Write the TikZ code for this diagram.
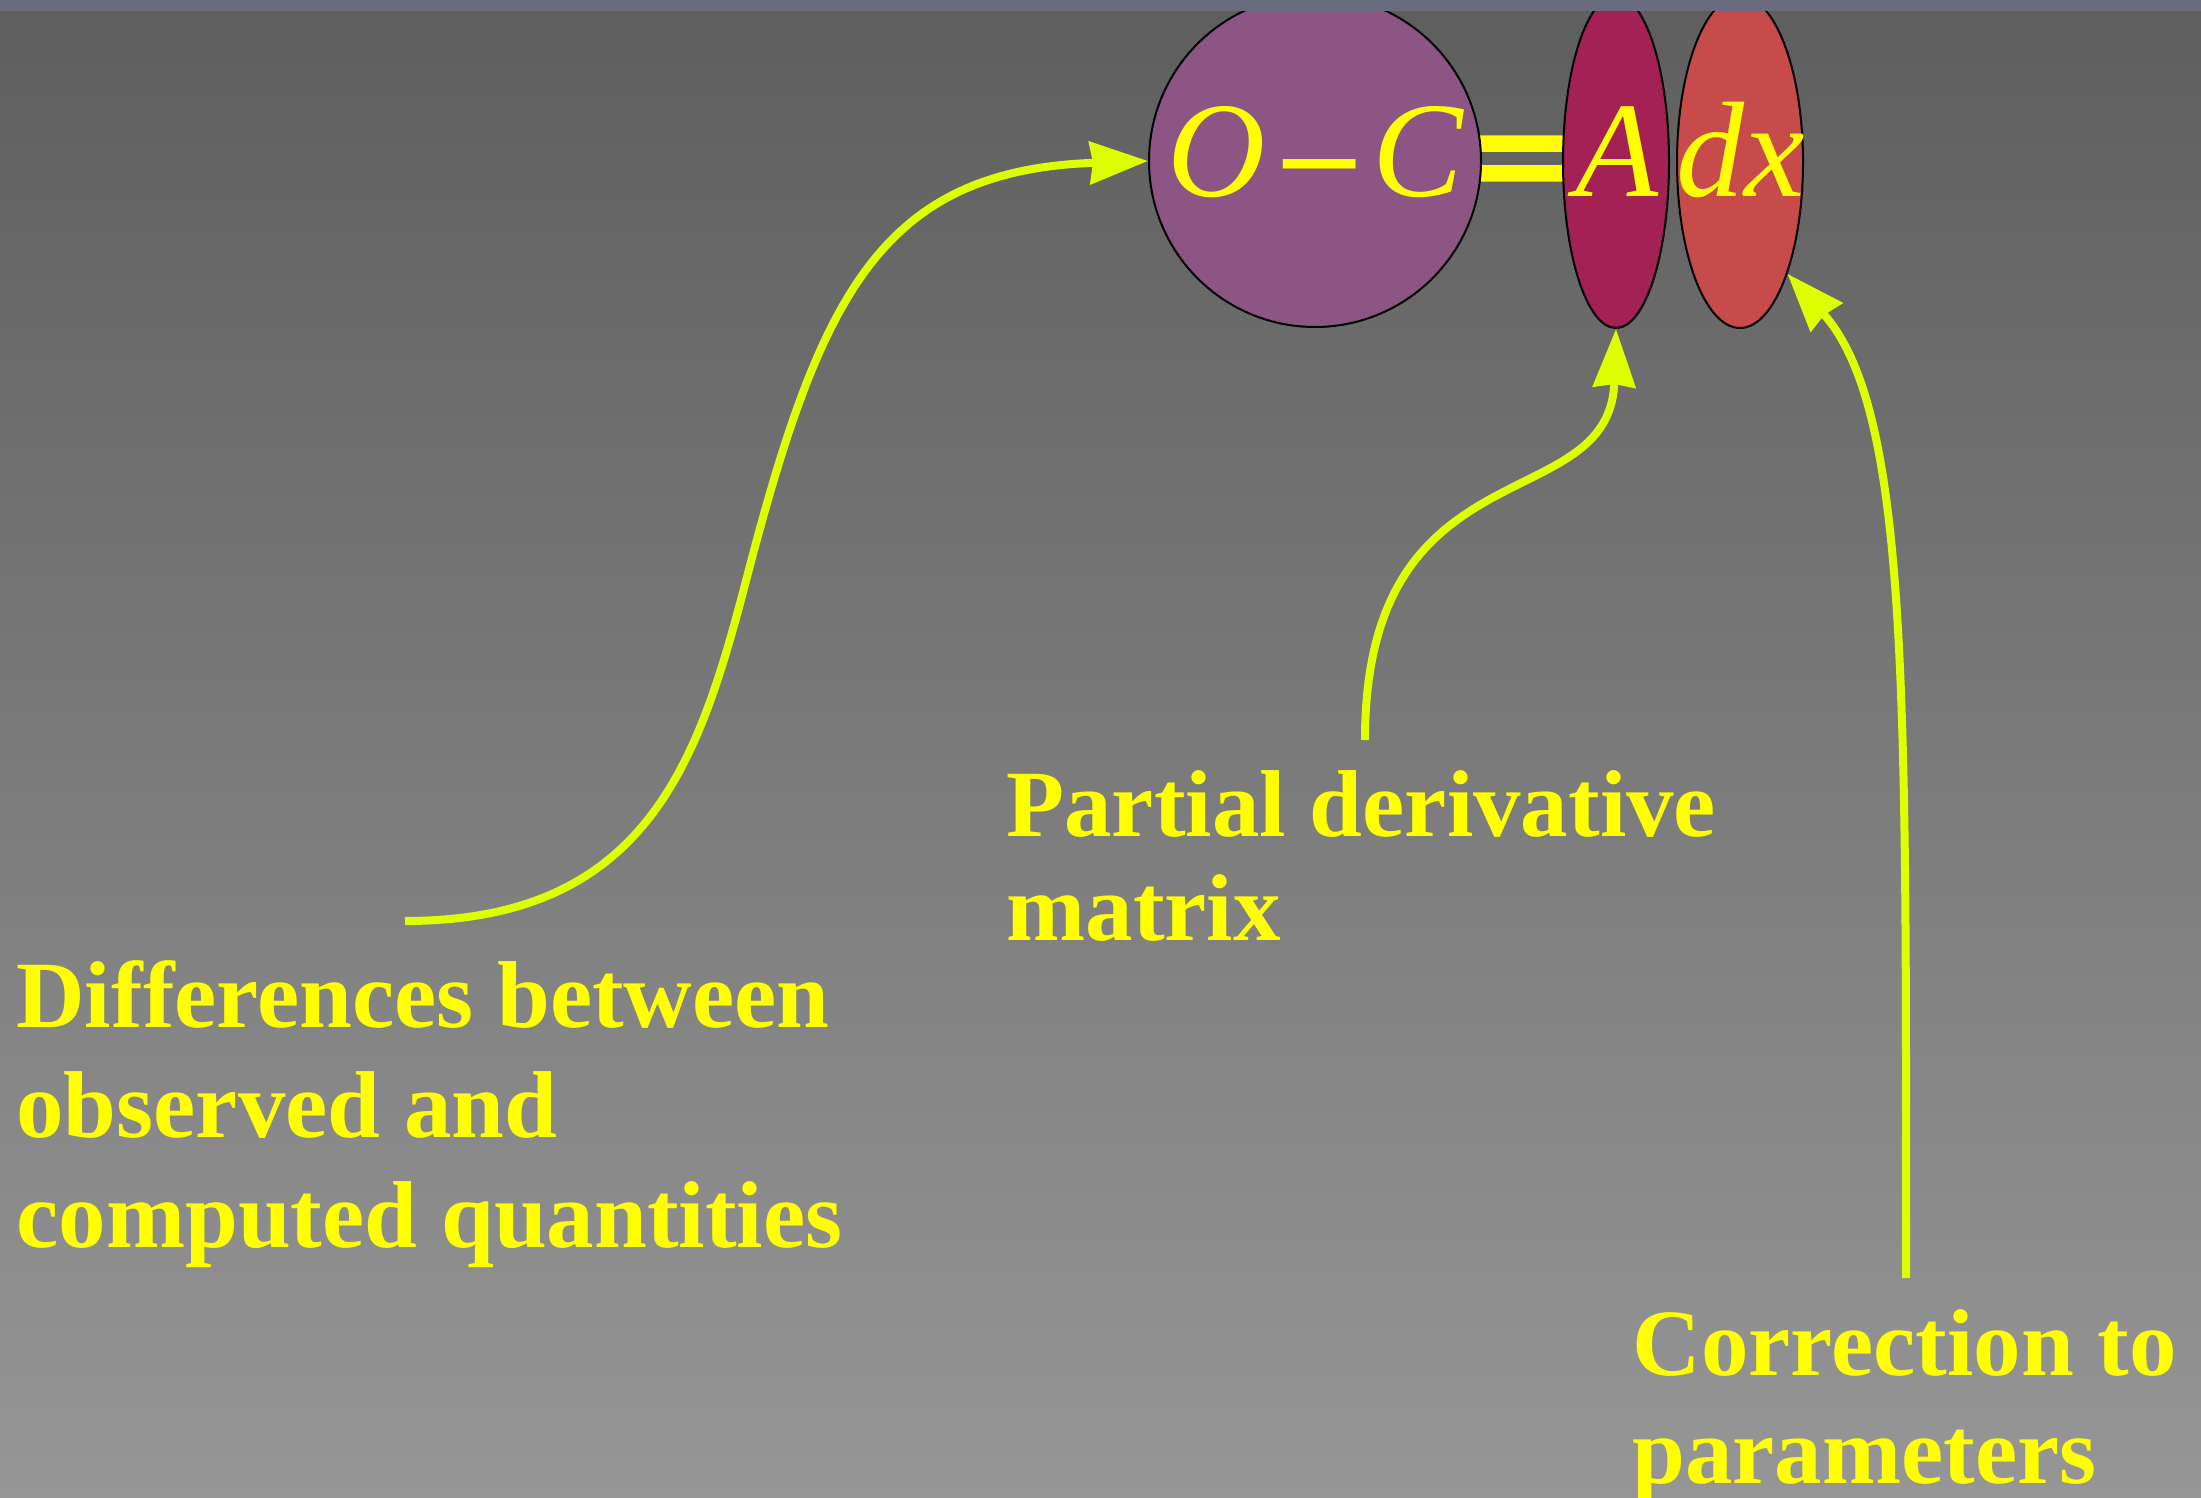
\documentclass[tikz,border=0pt]{standalone}
\usepackage{fontspec}
\setmainfont{Liberation Serif}
\newfontfamily\eqsignfont[FakeBold=4]{Liberation Serif Bold}
\usetikzlibrary{arrows.meta,shapes.geometric}
\definecolor{bgtop}{HTML}{5E5E5E}
\definecolor{bgbot}{HTML}{969696}
\definecolor{stripc}{HTML}{686C7E}
\definecolor{ocfill}{HTML}{8C5583}
\definecolor{afill}{HTML}{A32155}
\definecolor{dxfill}{HTML}{C84B4B}
\definecolor{txt}{HTML}{FFFF00}
\definecolor{arrowc}{HTML}{DDFF00}
\tikzset{
  shapebox/.style={draw=black, line width=1pt, inner sep=0pt, ellipse},
  arr/.style={draw=arrowc, line width=4pt, -{Stealth[length=29pt,width=21pt,inset=1.5pt]}},
  lbl/.style={text=txt, align=left, anchor=base west, inner sep=0pt},
  eqtext/.style={text=txt, font=\fontsize{68}{80}\selectfont\itshape, inner sep=0pt, anchor=base},
}
\begin{document}
\begin{tikzpicture}[x=0.5pt,y=-0.5pt]
\useasboundingbox (0,0) rectangle (2201,1498);
\shade[top color=bgtop, bottom color=bgbot] (0,0) rectangle (2201,1498);
% equals sign behind the shapes
\node[text=txt, inner sep=0pt, anchor=base] (eqs) at (1522,208)
  {\scalebox{1.15}[1.0]{\fontsize{74.5}{80}\selectfont\eqsignfont =}};
% shapes
\node[shapebox, fill=ocfill, minimum width=166pt, minimum height=166pt] (oc) at (1315,161) {};
\node[shapebox, fill=afill, minimum width=53pt, minimum height=166pt] (A) at (1616,162) {};
\node[shapebox, fill=dxfill, minimum width=63pt, minimum height=166pt] (dx) at (1740,162) {};
% equation text
\node[eqtext] (ocl) at (1315.5,197)
  {O\kern5pt\raisebox{-15.5pt}{\scalebox{1.15}[1.4]{\upshape −}}\kern4.5pt C};
\node[eqtext] (al) at (1617,197) {A};
\node[eqtext] (dxl) at (1741,197) {dx};
% labels (base anchor = baseline of the last line)
\node[lbl, font=\fontsize{47.5}{55}\selectfont\bfseries] (diff) at (16,1247)
  {Differences between\\observed and\\computed quantities};
\node[lbl, font=\fontsize{47.5}{52}\selectfont\bfseries] (pdm) at (1006,940)
  {Partial derivative\\matrix};
\node[lbl, font=\fontsize{47.5}{54}\selectfont\bfseries] (corr) at (1632,1483)
  {Correction to\\parameters};
% arrow start points
\coordinate (s1) at (405,921);
\coordinate (s2) at (1365,740);
\coordinate (s3) at (1906,1278);
\draw[arr] (s1) .. controls (650,921) and (700,757) .. (747,577)
               .. controls (820,297) and (880,170) .. (oc.west);
\draw[arr] (s2) .. controls (1365,440) and (1610,520) .. (A.south);
\draw[arr] (s3) .. controls (1906,700) and (1910,410) .. (dx.-67);
% top strip
\fill[stripc] (0,0) rectangle (2201,11);
\end{tikzpicture}
\end{document}
